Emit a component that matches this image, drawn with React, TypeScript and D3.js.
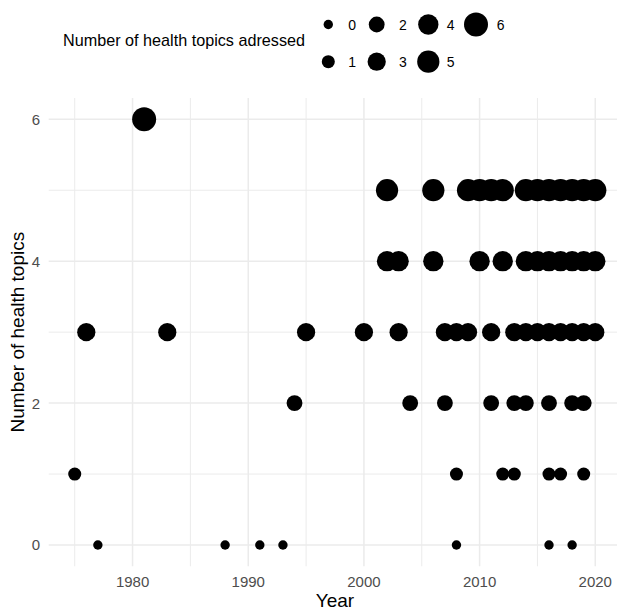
import React from "react";
import * as d3 from "d3";

// Data: years of publications by number of health topics addressed
const topics0 = [1977, 1988, 1991, 1993, 2008, 2016, 2018];
const topics1 = [1975, 2008, 2012, 2013, 2016, 2017, 2019];
const topics2 = [1994, 2004, 2007, 2011, 2013, 2014, 2016, 2018, 2019];
const topics3 = [1976, 1983, 1995, 2000, 2003, 2007, 2008, 2009, 2011, 2013, 2014, 2015, 2016, 2017, 2018, 2019, 2020];
const topics4 = [2002, 2003, 2006, 2010, 2012, 2014, 2015, 2016, 2017, 2018, 2019, 2020];
const topics5 = [2002, 2006, 2009, 2010, 2011, 2012, 2014, 2015, 2016, 2017, 2018, 2019, 2020];
const topics6 = [1981];

const yearsByTopics = [topics0, topics1, topics2, topics3, topics4, topics5, topics6];

const xMajorTicks = [1980, 1990, 2000, 2010, 2020];
const xMinorTicks = [1975, 1985, 1995, 2005, 2015];
const yMajorTicks = [0, 2, 4, 6];
const yMinorTicks = [1, 3, 5];
const legendValues = [0, 1, 2, 3, 4, 5, 6];

const W = 617;
const H = 610;
const panel = { left: 48.7, right: 621.3, top: 98, bottom: 566.3 };
const FONT = "'Liberation Sans', Arial, Helvetica, sans-serif";

export default function App() {
  const points = yearsByTopics.flatMap((years, n) => years.map((year) => ({ year, n })));
  const xMin = d3.min(points, (d) => d.year)!;
  const xMax = d3.max(points, (d) => d.year)!;
  const xPad = (xMax - xMin) * 0.05;
  const x = d3.scaleLinear().domain([xMin - xPad, xMax + xPad]).range([panel.left, panel.right]);
  const y = d3.scaleLinear().domain([-0.3, 6.3]).range([panel.bottom, panel.top]);
  const r = d3.scaleRadial().domain([0, 6]).range([4.7, 12]);

  const legendKeyX = [328.3, 376.7, 428.3, 476];
  const legendLabelX = [348.3, 399, 446.7, 496.7];
  const legendRowY = [24.5, 61.7];

  return (
    <svg width={W} height={H} style={{ position: "absolute", left: 0, top: 0, display: "block", background: "#fff" }} fontFamily={FONT}>
      <rect x={0} y={0} width={W} height={H} fill="#fff" />
      {/* minor grid */}
      {xMinorTicks.map((t) => (
        <line key={"xm" + t} x1={x(t)} x2={x(t)} y1={panel.top} y2={panel.bottom} stroke="#EBEBEB" strokeWidth={1} />
      ))}
      {yMinorTicks.map((t) => (
        <line key={"ym" + t} y1={y(t)} y2={y(t)} x1={panel.left} x2={panel.right} stroke="#EBEBEB" strokeWidth={1} />
      ))}
      {/* major grid */}
      {xMajorTicks.map((t) => (
        <line key={"xM" + t} x1={x(t)} x2={x(t)} y1={panel.top} y2={panel.bottom} stroke="#EBEBEB" strokeWidth={1.5} />
      ))}
      {yMajorTicks.map((t) => (
        <line key={"yM" + t} y1={y(t)} y2={y(t)} x1={panel.left} x2={panel.right} stroke="#EBEBEB" strokeWidth={1.5} />
      ))}
      {/* points */}
      {points.map((d, i) => (
        <circle key={i} cx={x(d.year)} cy={y(d.n)} r={r(d.n)} fill="#000" />
      ))}
      {/* x tick labels */}
      {xMajorTicks.map((t) => (
        <text key={"xl" + t} x={x(t)} y={586.5} textAnchor="middle" fontSize={15} fill="#4D4D4D">
          {t}
        </text>
      ))}
      {/* y tick labels */}
      {yMajorTicks.map((t) => (
        <text key={"yl" + t} x={40} y={y(t)} dy="0.36em" textAnchor="end" fontSize={15} fill="#4D4D4D">
          {t}
        </text>
      ))}
      {/* axis titles */}
      <text x={(panel.left + panel.right) / 2} y={606.5} textAnchor="middle" fontSize={19} fill="#000">
        Year
      </text>
      <text
        transform={`translate(23.5, ${(panel.top + panel.bottom) / 2}) rotate(-90)`}
        textAnchor="middle"
        fontSize={19}
        fill="#000"
      >
        Number of health topics
      </text>
      {/* legend */}
      <text x={63} y={45.5} fontSize={16.2} fill="#000">
        Number of health topics adressed
      </text>
      {legendValues.map((v) => {
        const col = Math.floor(v / 2);
        const row = v % 2;
        return (
          <g key={"lg" + v}>
            <circle cx={legendKeyX[col]} cy={legendRowY[row]} r={r(v)} fill="#000" />
            <text x={legendLabelX[col]} y={legendRowY[row]} dy="0.36em" fontSize={14} fill="#000">
              {v}
            </text>
          </g>
        );
      })}
    </svg>
  );
}
